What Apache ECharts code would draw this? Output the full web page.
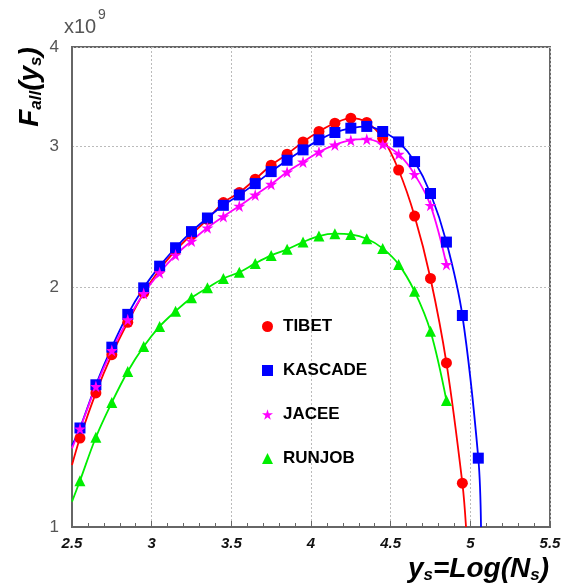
<!DOCTYPE html>
<html><head><meta charset="utf-8">
<script src="https://cdn.jsdelivr.net/npm/echarts@6/dist/echarts.min.js"></script>
<style>html,body{margin:0;padding:0;background:#fff}#c{width:574px;height:585px}</style>
</head><body><div id="c"></div>
<script>
// x positions of the measured points (log Ns)
const xPoints = [2.55,2.65,2.75,2.85,2.95,3.05,3.15,3.25,3.35,3.45,3.55,3.65,3.75,3.85,3.95,4.05,4.15,4.25,4.35,4.45,4.55,4.65,4.75,4.85,4.95,5.05];
// values in units of 1e9
const tibet   = [1.293,1.473,1.645,1.806,1.966,2.104,2.223,2.328,2.432,2.552,2.627,2.731,2.843,2.935,3.041,3.134,3.210,3.257,3.217,3.074,2.804,2.455,2.050,1.606,1.135];
const kascade = [1.331,1.508,1.681,1.848,1.995,2.124,2.240,2.347,2.441,2.532,2.609,2.696,2.791,2.884,2.972,3.059,3.125,3.164,3.180,3.134,3.041,2.873,2.620,2.277,1.842,1.220];
const jacee   = [1.328,1.501,1.665,1.820,1.963,2.084,2.193,2.284,2.373,2.451,2.527,2.609,2.691,2.788,2.870,2.954,3.015,3.056,3.065,3.021,2.935,2.769,2.532,2.135];
const runjob  = [1.143,1.296,1.433,1.567,1.684,1.785,1.865,1.939,1.995,2.050,2.087,2.141,2.191,2.230,2.277,2.317,2.333,2.328,2.299,2.236,2.135,1.975,1.760,1.441];
// where the fitted curves start (left frame) and end
const tibetStart = [2.5, 1.196],  tibetEnd = [4.973, 1.0];
const kascadeStart = [2.5, 1.265], kascadeEnd = [5.067, 1.0];
const jaceeStart = [2.5, 1.255];
const runjobStart = [2.5, 1.076];
const yTickValues = [1, 2, 3, 4];
const names = ['TIBET','KASCADE','JACEE','RUNJOB'];

const FONT = 'Liberation Sans';
const starPath = 'path://M50,0 L61,35 L98,35 L68,57 L79,91 L50,70 L21,91 L32,57 L2,35 L39,35 Z';

function pts(vals){ return vals.map((v,i)=>[xPoints[i], v]); }
function curve(start, vals, end){
  const d = [start].concat(pts(vals));
  if (end) d.push(end);
  return d;
}
function lineSeries(data, color){
  return {type:'line', data:data, smooth:0.35, showSymbol:false, symbol:'none', silent:true,
    lineStyle:{color:color, width:1.8}, clip:true, z:2};
}
function scat(name, vals, color, symbol, size){
  return {type:'scatter', name:name, data:pts(vals), symbol:symbol, symbolSize:size,
    itemStyle:{color:color, opacity:1}, z:3};
}
const titleRich = {
  a:{fontFamily:FONT, fontSize:28, fontWeight:'bold', fontStyle:'italic', fill:'#000', color:'#000', lineHeight:28},
  b:{fontFamily:FONT, fontSize:17, fontWeight:'bold', fontStyle:'italic', fill:'#000', color:'#000', lineHeight:17, padding:[13,0,0,0]}
};

const chart = echarts.init(document.getElementById('c'), null, {renderer:'canvas'});
chart.setOption({
  animation:false,
  backgroundColor:'#fff',
  grid:{left:72, right:24, top:47, bottom:58, show:true, borderColor:'#666', borderWidth:2, backgroundColor:'transparent'},
  xAxis:{type:'value', min:2.5, max:5.5, interval:0.5,
    axisLine:{show:true, lineStyle:{color:'#666', width:2}},
    axisTick:{show:true, inside:true, length:6, lineStyle:{color:'#666', width:1}},
    minorTick:{show:true, splitNumber:5, length:4, lineStyle:{color:'#666', width:1}},
    splitLine:{show:true, lineStyle:{color:'#bbb', type:[2,2], width:1}},
    axisLabel:{color:'#111', fontFamily:FONT, fontSize:15, fontWeight:'bold', fontStyle:'italic', margin:9,
      formatter:v=>String(v)}
  },
  yAxis:{type:'log', logBase:10, min:1, max:4,
    axisLine:{show:true, lineStyle:{color:'#666', width:2}},
    axisTick:{show:false, customValues:yTickValues},
    splitLine:{show:true, lineStyle:{color:'#bbb', type:[2,2], width:1}},
    axisLabel:{customValues:yTickValues, color:'#555', fontFamily:FONT, fontSize:17, margin:13, formatter:v=>String(Math.round(v))}
  },
  legend:{data:names, orient:'vertical', left:257, top:313, itemWidth:11, itemHeight:11, itemGap:27,
    textStyle:{fontFamily:FONT, fontSize:17, fontWeight:'bold', color:'#000', lineHeight:17, padding:[0,0,0,5]},
    selectedMode:false},
  series:[
    lineSeries(curve(tibetStart, tibet, tibetEnd), '#ff0000'),
    lineSeries(curve(kascadeStart, kascade, kascadeEnd), '#0000ff'),
    lineSeries(curve(jaceeStart, jacee, null), '#ff00ff'),
    lineSeries(curve(runjobStart, runjob, null), '#00ee00'),
    scat('TIBET', tibet, '#ff0000', 'circle', 11),
    scat('KASCADE', kascade, '#0000ff', 'rect', 11),
    scat('JACEE', jacee, '#ff00ff', starPath, 12),
    scat('RUNJOB', runjob, '#00ee00', 'triangle', 11)
  ],
  graphic:[
    {type:'text', x:64, y:27, style:{text:'x10', fontFamily:FONT, fontSize:20, fill:'#555', verticalAlign:'middle'}},
    {type:'text', x:98, y:15, style:{text:'9', fontFamily:FONT, fontSize:14, fill:'#555', verticalAlign:'middle'}},
    {type:'text', x:30, y:87, rotation:Math.PI/2,
      style:{text:'{a|F}{b|all}{a|(y}{b|s}{a|)}', align:'center', verticalAlign:'middle', rich:titleRich}},
    {type:'text', x:549, y:569,
      style:{text:'{a|y}{b|s}{a|=Log(N}{b|s}{a|)}', align:'right', verticalAlign:'middle', rich:titleRich}}
  ]
});
</script></body></html>
